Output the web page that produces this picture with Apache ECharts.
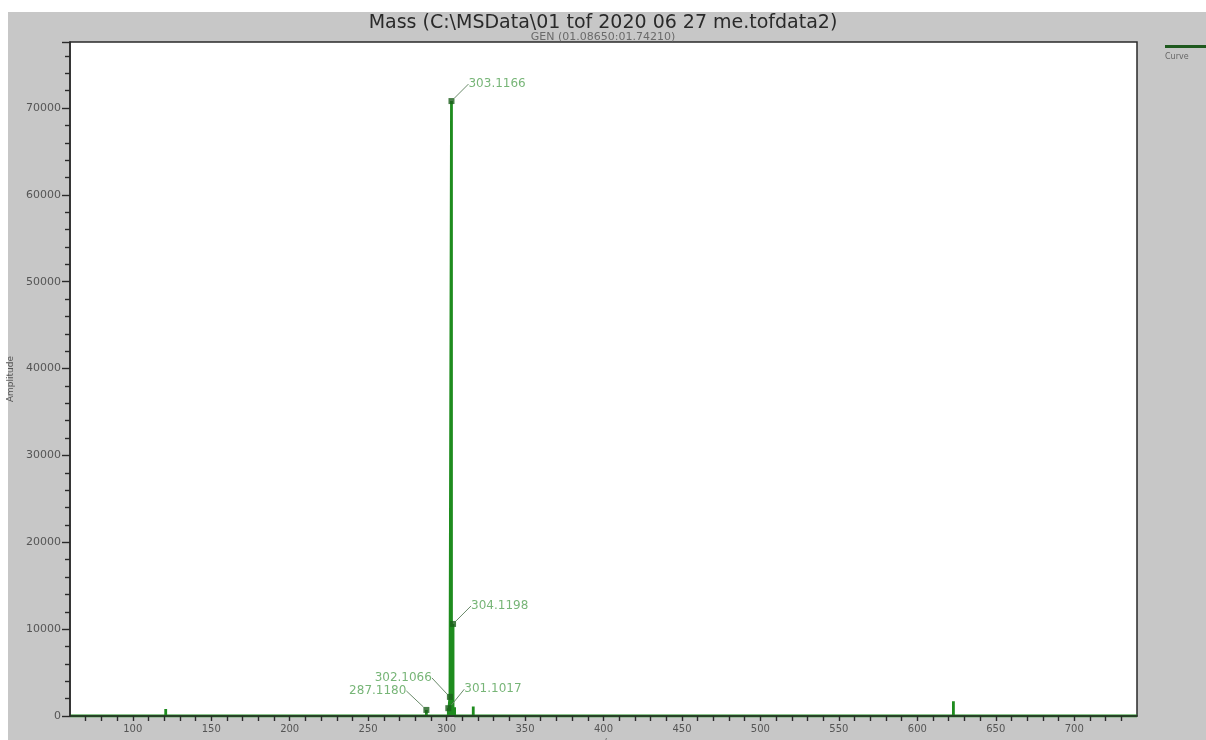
<!DOCTYPE html>
<html>
<head>
<meta charset="utf-8">
<title>Mass spectrum</title>
<script src="https://cdn.jsdelivr.net/npm/echarts@6/dist/echarts.min.js"></script>
<style>
  html, body { margin: 0; padding: 0; background: #ffffff; }
  #chart { width: 1206px; height: 740px; }
</style>
</head>
<body>
<div id="chart"></div>
<script>
// Centroid peaks of the spectrum (m/z, amplitude)
const peakMz = [121.0, 287.1180, 301.1017, 302.1066, 303.1166, 304.1198, 305.1220, 317.0, 623.0];
const peakAmp = [800, 700, 900, 2200, 70800, 10600, 1000, 1100, 1700];

// Peaks carrying an m/z annotation
const labelMz = [303.1166, 304.1198, 302.1066, 301.1017, 287.1180];
const labelAmp = [70800, 10600, 2200, 900, 700];

// Axis settings
const xMin = 60, xMax = 740;
const yMin = 0, yMax = 77600;

const titleText = 'Mass (C:\\MSData\\01 tof 2020 06 27 me.tofdata2)';
const subTitleText = 'GEN (01.08650:01.74210)';
const legendName = 'Curve';
const xName = 'm/z';
const yName = 'Amplitude';

// Stick spectrum: each peak becomes a vertical stroke from the baseline
const stickData = [[xMin, 0]];
peakMz.forEach((mz, i) => {
  stickData.push([mz, 0], [mz, peakAmp[i]], [mz, 0]);
});
stickData.push([xMax, 0]);

// Label placement for each annotated peak: side and offset
const labelPlace = [
  { pos: 'right', dx: 9, dy: -17 },
  { pos: 'right', dx: 10, dy: -18 },
  { pos: 'left', dx: -10, dy: -19 },
  { pos: 'right', dx: 8, dy: -19 },
  { pos: 'left', dx: -12, dy: -19 }
];

const green = '#1e8c1e';
const labelGreen = '#55a255';
const axisColor = '#2a2a2a';
const tickText = '#555555';

const chart = echarts.init(document.getElementById('chart'), null, { renderer: 'canvas' });

chart.setOption({
  animation: false,
  backgroundColor: '#ffffff',
  graphic: [
    {
      type: 'rect', z: -10, silent: true,
      shape: { x: 8, y: 12, width: 1198, height: 728 },
      style: { fill: '#c7c7c7' }
    },
    {
      type: 'rect', z: 10, silent: true,
      shape: { x: 1165, y: 45, width: 41, height: 3 },
      style: { fill: '#1f5a1f' }
    },
    {
      type: 'text', z: 10, silent: true,
      left: 1165, top: 53,
      style: { text: legendName, fill: '#666666', font: '8px "DejaVu Sans"' }
    }
  ],
  title: {
    text: titleText,
    subtext: subTitleText,
    left: 'center',
    top: 14,
    itemGap: -1,
    padding: 0,
    textStyle: { fontFamily: 'DejaVu Sans', fontSize: 19, fontWeight: 'normal', color: '#2a2a2a' },
    subtextStyle: { fontFamily: 'DejaVu Sans', fontSize: 11, color: '#6a6a6a' }
  },
  grid: {
    left: 70, right: 69, top: 42, bottom: 24,
    outerBoundsMode: 'none',
    containLabel: false,
    show: true,
    backgroundColor: '#ffffff',
    borderColor: axisColor,
    borderWidth: 1.5
  },
  xAxis: {
    type: 'value',
    min: xMin, max: xMax, interval: 10,
    z: 5,
    name: xName,
    nameLocation: 'middle',
    nameGap: 22,
    nameTextStyle: { fontFamily: 'DejaVu Sans', fontSize: 8, color: tickText },
    axisLine: { show: true, lineStyle: { color: axisColor, width: 1.5 } },
    axisTick: { show: true, length: 5, lineStyle: { color: axisColor, width: 1.4 } },
    axisLabel: {
      fontFamily: 'DejaVu Sans', fontSize: 10, color: tickText, margin: 8,
      showMinLabel: false, showMaxLabel: false,
      formatter: v => (v % 50 === 0 ? String(v) : '')
    },
    splitLine: { show: false }
  },
  yAxis: {
    type: 'value',
    min: yMin, max: yMax, interval: 10000,
    z: 5,
    name: yName,
    nameLocation: 'middle',
    nameGap: 52,
    nameTextStyle: { fontFamily: 'DejaVu Sans', fontSize: 9, color: tickText },
    axisLine: { show: true, lineStyle: { color: axisColor, width: 1.5 } },
    axisTick: { show: true, length: 8, lineStyle: { color: axisColor, width: 1.4 } },
    minorTick: { show: true, splitNumber: 5, length: 5, lineStyle: { color: axisColor, width: 1.4 } },
    axisLabel: {
      fontFamily: 'DejaVu Sans', fontSize: 11, color: tickText, margin: 9,
      showMaxLabel: false,
      formatter: v => String(v)
    },
    splitLine: { show: false },
    minorSplitLine: { show: false }
  },
  series: [
    {
      name: legendName,
      type: 'line',
      data: stickData,
      showSymbol: false,
      lineStyle: { color: green, width: 2.8 },
      z: 3
    },
    {
      type: 'scatter',
      data: labelMz.map((mz, i) => ({
        value: [mz, labelAmp[i]],
        label: { position: labelPlace[i].pos }
      })),
      symbol: 'rect',
      symbolSize: 6,
      itemStyle: { color: '#1a5e1a' },
      label: {
        show: true,
        formatter: p => labelMz[p.dataIndex].toFixed(4),
        fontFamily: 'DejaVu Sans',
        fontSize: 12,
        color: labelGreen
      },
      labelLine: { show: true, lineStyle: { color: '#6a8a6a', width: 1 } },
      labelLayout: p => ({ dx: labelPlace[p.dataIndex].dx, dy: labelPlace[p.dataIndex].dy }),
      z: 4
    }
  ]
});
</script>
</body>
</html>
